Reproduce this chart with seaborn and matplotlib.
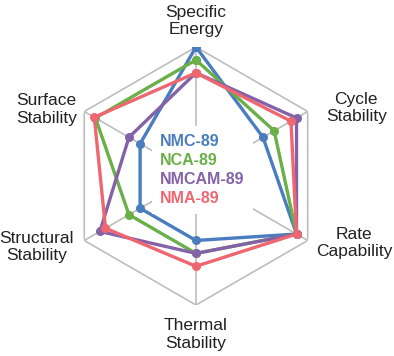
import numpy as np
import pandas as pd
import matplotlib
matplotlib.use('Agg')
import matplotlib.pyplot as plt
from matplotlib.lines import Line2D
import seaborn as sns


axes_labels = ['Specific\nEnergy', 'Cycle\nStability', 'Rate\nCapability',
               'Thermal\nStability', 'Structural\nStability', 'Surface\nStability']
materials = ['NMC-89', 'NCA-89', 'NMCAM-89', 'NMA-89']
colors = ['#4A7DBF', '#6AAF48', '#8462A8', '#EE6670']

# scores, 0-10 scale, same order as axes_labels
nmc = [10.0, 6.0, 9.0, 5.0, 5.0, 5.0]
nca = [9.0, 7.0, 9.0, 6.0, 6.0, 9.0]
nmcam = [8.0, 9.0, 9.0, 6.0, 8.6, 6.0]
nma = [8.0, 8.5, 9.0, 7.0, 8.1, 9.1]

# where each axis label sits (angle in deg clockwise from top, radius)
label_pos = [(0, 12.0), (67, 13.5), (113, 13.3), (180, 12.3), (246, 13.5), (294, 12.7)]


def main():
    sns.set_style('white')
    plt.rcParams['font.family'] = ['Liberation Sans', 'DejaVu Sans']

    fig = plt.figure(figsize=(3.94, 3.56), dpi=100)
    ax = fig.add_axes([0.170, 0.1433, 0.6548, 0.7247], projection='polar')
    ax.set_theta_zero_location('N')
    ax.set_theta_direction(-1)

    theta = np.deg2rad(np.arange(0, 360, 60))
    closed = np.append(theta, theta[0])

    # hexagonal frame and spokes
    ax.plot(closed, [10] * 7, color='#BDBDBD', lw=1.2, zorder=1)
    for t in theta:
        ax.plot([t, t], [0, 10], color='#BDBDBD', lw=1.2, zorder=1)

    rows = []
    for name, vals in zip(materials, [nmc, nca, nmcam, nma]):
        for i, t in enumerate(closed):
            rows.append({'material': name, 'theta': t, 'score': vals[i % 6]})
    df = pd.DataFrame(rows)

    sns.lineplot(data=df, x='theta', y='score', hue='material', hue_order=materials,
                 palette=colors, units='material', estimator=None, sort=False,
                 marker='o', markersize=6.5, markeredgewidth=0, linewidth=2.4,
                 legend=False, ax=ax, zorder=3)

    ax.set_ylim(0, 10)
    ax.set_xticks([])
    ax.set_yticks([])
    ax.grid(False)
    ax.spines['polar'].set_visible(False)
    ax.set_xlabel('')
    ax.set_ylabel('')

    for lab, (ang, r) in zip(axes_labels, label_pos):
        ax.text(np.deg2rad(ang), r, lab, ha='center', va='center', fontsize=12.5,
                color='#222222', linespacing=1.2)

    handles = [Line2D([], [], linestyle='none') for _ in materials]
    leg = ax.legend(handles, materials, loc='center', bbox_to_anchor=(0.525, 0.525),
                    bbox_transform=ax.transAxes, handlelength=0, handletextpad=0,
                    labelcolor=colors, frameon=True, fancybox=False, framealpha=1,
                    facecolor='white', edgecolor='none', borderpad=0.5,
                    labelspacing=0.25, prop={'weight': 'bold', 'size': 11.5})
    leg.set_zorder(5)

    fig.savefig('out.png', dpi=100)


if __name__ == '__main__':
    main()
